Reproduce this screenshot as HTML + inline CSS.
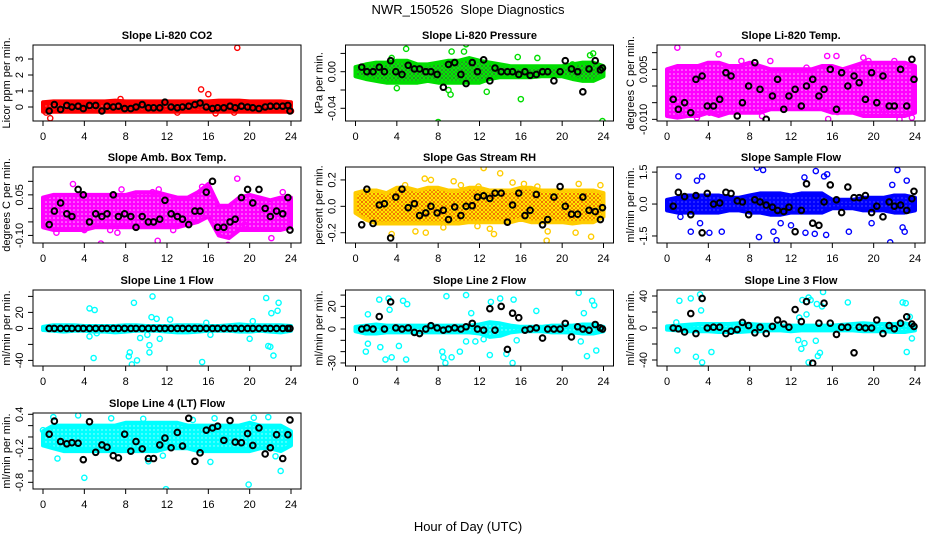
<!DOCTYPE html>
<html><head><meta charset="utf-8"><style>
body{margin:0;background:#fff;}
svg{display:block;font-family:"Liberation Sans",sans-serif;}
</style></head><body>
<svg id="chart" width="936" height="540" viewBox="0 0 936 540">
<defs>
<pattern id="pat-red" width="4" height="4" patternUnits="userSpaceOnUse"><rect width="4" height="4" fill="#ff0000"/><circle cx="2" cy="2" r="0.6" fill="#ff9090"/></pattern>
<pattern id="pat-green" width="4" height="4" patternUnits="userSpaceOnUse"><rect width="4" height="4" fill="#2f7d2f"/><circle cx="2" cy="2" r="1.6" fill="none" stroke="#00ee00" stroke-width="1.1"/></pattern>
<pattern id="pat-magenta" width="4" height="4" patternUnits="userSpaceOnUse"><rect width="4" height="4" fill="#ff00ff"/><circle cx="2" cy="2" r="0.8" fill="#ffb0ff"/></pattern>
<pattern id="pat-orange" width="4" height="4" patternUnits="userSpaceOnUse"><rect width="4" height="4" fill="#ee4400"/><circle cx="2" cy="2" r="1.5" fill="none" stroke="#ffee00" stroke-width="1.1"/></pattern>
<pattern id="pat-blue" width="4" height="4" patternUnits="userSpaceOnUse"><rect width="4" height="4" fill="#0000ff"/><circle cx="2" cy="2" r="0.6" fill="#8080ff"/></pattern>
<pattern id="pat-cyan" width="4" height="4" patternUnits="userSpaceOnUse"><rect width="4" height="4" fill="#00ffff"/><circle cx="2" cy="2" r="0.7" fill="#b0ffff"/></pattern>
</defs>
<text x="468" y="14" text-anchor="middle" font-size="13" xml:space="preserve">NWR_150526&#160; Slope Diagnostics</text>
<text x="468" y="531" text-anchor="middle" font-size="13">Hour of Day (UTC)</text>
<g id="panels"></g>
</svg>
<script>
// shared data
const hourGrid = [0,1,2,3,4,5,6,7,8,9,10,11,12,13,14,15,16,17,18,19,20,21,22,23,24];
const xTicks = [0,4,8,12,16,20,24];
const blackHours = [0.6,1.1,1.7,2.3,2.8,3.4,3.9,4.5,5.1,5.7,6.2,6.8,7.3,7.9,8.5,9.0,9.6,10.2,10.7,11.3,11.8,12.4,13.0,13.5,14.1,14.7,15.2,15.8,16.4,16.9,17.5,18.1,18.6,19.2,19.8,20.3,20.9,21.5,22.0,22.6,23.2,23.7,23.9];

// Panel 1: Li-820 CO2
const co2Lo = [-0.3,-0.3,-0.3,-0.3,-0.3,-0.3,-0.3,-0.3,-0.3,-0.3,-0.3,-0.3,-0.3,-0.3,-0.3,-0.3,-0.3,-0.3,-0.3,-0.3,-0.3,-0.3,-0.3,-0.3,-0.3];
const co2Hi = [0.3,0.35,0.35,0.35,0.35,0.35,0.35,0.4,0.35,0.35,0.35,0.35,0.35,0.35,0.35,0.35,0.35,0.4,0.4,0.4,0.35,0.35,0.35,0.35,0.3];
const co2OutX = [0.7,15.3,16,18.8,16.7,13,18.5,7.5,0.3,24];
const co2OutY = [-0.7,1.1,0.8,3.7,-0.4,-0.35,-0.35,0.5,-0.35,-0.25];
const co2Black = [-0.25,0.15,-0.15,0.1,0,0.05,-0.1,0.1,0.1,-0.25,0.05,0,0.05,-0.1,-0.1,0,0.15,-0.05,-0.05,-0.05,0.3,0,-0.05,0,0.05,0.15,0.25,0,-0.1,-0.05,-0.05,0.05,-0.05,0.05,0,-0.05,-0.1,0,0.05,0.05,0.05,0.1,-0.25];
const co2Ticks = [0,1,2,3];
const co2Labels = ["0","1","2","3"];

// Panel 2: Pressure
const presLo = [-0.005,-0.008,-0.01,-0.012,-0.012,-0.012,-0.012,-0.01,-0.012,-0.012,-0.012,-0.012,-0.012,-0.008,-0.006,-0.006,-0.006,-0.006,-0.005,-0.005,-0.005,-0.008,-0.01,-0.01,-0.005];
const presHi = [0.005,0.008,0.01,0.01,0.012,0.012,0.008,0.008,0.01,0.012,0.012,0.015,0.012,0.01,0.008,0.006,0.006,0.006,0.006,0.006,0.006,0.008,0.01,0.01,0.006];
const presOutX = [4.9,10.7,10.5,9.3,8,16,23.9,9,9.2,4,12.7,3.5,22.7,23,21,17.6,15.7];
const presOutY = [0.025,0.03,0.022,0.022,-0.055,-0.03,-0.054,-0.02,-0.025,-0.018,-0.022,0.015,0.018,0.02,0.008,0.015,0.016];
const presBlack = [0.005,0,0,0.005,0,0.012,0,-0.003,0.007,0.003,0.003,0,0,-0.003,-0.017,0.008,0.010,-0.003,-0.013,0.010,0,0.013,-0.010,0.004,0,0,0,-0.003,0,-0.004,-0.003,0,0,-0.010,0,0.012,0.003,0,-0.022,0.003,0.012,0.002,0.004];
const presTicks = [0.02,0,-0.02,-0.04];
const presLabels = ["","0.00","","-0.04"];

// Panel 3: Li-820 Temp
const tempLo = [-0.009,-0.0095,-0.009,-0.009,-0.008,-0.009,-0.008,-0.008,-0.008,-0.008,-0.007,-0.007,-0.007,-0.007,-0.007,-0.007,-0.008,-0.008,-0.008,-0.009,-0.009,-0.009,-0.009,-0.009,-0.008];
const tempHi = [0.005,0.006,0.006,0.006,0.007,0.007,0.006,0.006,0.007,0.006,0.005,0.005,0.005,0.005,0.005,0.006,0.006,0.005,0.006,0.007,0.007,0.007,0.007,0.007,0.006];
const tempOutX = [1,5,15.5,16.4,19,19.5,7.2,2.9,15.6,22.5,23.7,16.5,21,9.2,0.3,1.2,4.1,13.5,10,22];
const tempOutY = [0.0115,0.0095,0.009,0.009,0.0085,0.0075,0.0075,-0.0095,-0.0099,-0.010,-0.0095,-0.0078,-0.0075,-0.009,-0.006,-0.008,-0.008,0.0055,0.0075,0.0075];
const tempBlack = [-0.004,-0.007,-0.005,-0.008,0.002,0.003,-0.006,-0.006,-0.004,0.004,0.003,-0.009,-0.005,0,0.007,-0.001,-0.010,-0.003,0.002,-0.007,-0.003,-0.001,-0.006,0,0.002,-0.003,-0.001,0.005,-0.007,0.004,0,0.003,0.001,-0.004,0.004,-0.005,0.003,-0.006,-0.006,0.005,-0.006,0.008,0.002];
const tempTicks = [0.01,0.005,0,-0.005,-0.01];
const tempLabels = ["","0.005","","","-0.010"];

// Panel 4: Amb. Box Temp
const ambLo = [-0.07,-0.08,-0.08,-0.08,-0.08,-0.07,-0.07,-0.07,-0.07,-0.07,-0.07,-0.07,-0.07,-0.07,-0.06,-0.05,-0.03,-0.1,-0.11,-0.08,-0.08,-0.08,-0.08,-0.08,-0.07];
const ambHi = [0.04,0.05,0.05,0.05,0.05,0.05,0.05,0.05,0.05,0.06,0.06,0.06,0.05,0.04,0.04,0.06,0.09,0.01,0.01,0.04,0.05,0.04,0.03,0.04,0.04];
const ambOutX = [2.9,18.8,5.6,11.1,17.9,7.2,11.2,10.6,22.1,23.2,15.4,4,12.6,8.8,1.3,6.5,19.5,7.6];
const ambOutY = [0.09,0.11,-0.13,-0.12,-0.135,-0.09,0.07,0.06,-0.11,0.06,0.08,-0.08,-0.08,0.05,-0.09,-0.08,-0.06,0.07];
const ambBlack = [-0.06,-0.01,0.02,-0.02,-0.03,0.07,0.05,-0.05,-0.02,-0.03,-0.02,0.05,-0.03,-0.02,-0.03,-0.07,-0.03,-0.05,-0.05,-0.04,0.03,-0.02,-0.03,-0.04,-0.06,-0.01,-0.01,0.06,0.10,-0.07,-0.07,-0.05,-0.04,0.04,0.07,0.02,0.07,0,-0.03,-0.01,-0.02,0.04,-0.08];
const ambTicks = [0.1,0.05,0,-0.05,-0.1];
const ambLabels = ["","0.05","","","-0.10"];

// Panel 5: Gas Stream RH
const rhLo = [-0.05,-0.1,-0.13,-0.13,-0.13,-0.13,-0.13,-0.13,-0.13,-0.13,-0.13,-0.12,-0.12,-0.12,-0.12,-0.12,-0.1,-0.12,-0.12,-0.12,-0.12,-0.13,-0.12,-0.12,-0.08];
const rhHi = [0.1,0.12,0.12,0.1,0.14,0.14,0.12,0.14,0.14,0.12,0.12,0.14,0.14,0.12,0.12,0.12,0.14,0.14,0.12,0.12,0.12,0.12,0.12,0.12,0.1];
const rhOutX = [12.4,14,7.3,6.7,9.5,3.5,13.4,18.5,18.6,21.3,22.8,5.8,6.8,13,8.5,11.8,4.8,21.6,23.7,16.3,17.6,15.2,10.2,11.9];
const rhOutY = [0.29,0.25,0.2,0.21,0.19,-0.21,-0.21,-0.26,-0.19,-0.2,-0.23,-0.19,-0.2,-0.17,-0.16,-0.15,0.16,0.17,0.16,0.17,0.15,0.18,0.16,0.15];
const rhBlack = [-0.14,0.13,-0.13,0.01,0.02,-0.24,0.07,0.13,-0.01,0.02,-0.07,-0.05,0,-0.05,-0.03,-0.1,-0.005,-0.07,0,0.005,0.07,0.08,0.06,0.10,0.10,-0.12,0.01,0.10,-0.07,-0.03,0.09,-0.14,-0.1,0.07,0.15,0,-0.06,-0.06,0.07,-0.03,-0.04,-0.1,-0.01];
const rhTicks = [0.2,0,-0.2];
const rhLabels = ["0.2","0.0","-0.2"];

// Panel 6: Sample Flow
const sfLo = [-0.3,-0.4,-0.4,-0.4,-0.4,-0.4,-0.3,-0.3,-0.4,-0.4,-0.5,-0.5,-0.4,-0.4,-0.4,-0.4,-0.2,-0.2,-0.2,-0.3,-0.3,-0.3,-0.4,-0.4,-0.3];
const sfHi = [0.2,0.3,0.4,0.4,0.4,0.4,0.3,0.3,0.4,0.5,0.5,0.5,0.4,0.5,0.5,0.5,0.2,0.2,0.2,0.3,0.3,0.3,0.4,0.4,0.3];
const sfOutX = [1.1,2.9,3.4,8.7,9.3,13.3,14.4,15.2,15.5,22.3,21.8,23.2,2.3,3.2,4.1,5.3,8.9,10.3,10.6,12,13.4,14.3,15.4,17.6,19.8,21.6,22.8,23,11,1.3];
const sfOutY = [1.3,1.1,1.3,1.7,1.6,1.25,1.55,1.3,1.4,1.6,0.9,1.1,-1.3,-0.9,-1.35,-1.3,-1.55,-1.3,-1.7,-1.0,-1.35,-1.4,-1.45,-1.3,-0.9,-1.8,-1.1,-1.3,-0.9,-0.6];
const sfBlack = [-0.1,0.55,0.35,-0.5,0.4,-1.35,0.5,0,0.05,0.55,0.5,0.15,0.1,-0.5,0.2,0.1,-0.05,-0.15,-0.3,-0.35,-0.15,-1.3,-0.3,0.95,-0.9,-1.0,0.1,0.9,0.2,-0.4,0.8,0.3,0.3,0.4,-0.4,-0.1,-0.6,0.1,-0.1,-0.05,-0.3,0.25,0.6];
const sfTicks = [1.5,0,-1.5];
const sfLabels = ["1.5","0.0","-1.5"];

// Panel 7: Line 1 Flow
const l1Lo = [-2,-3,-4,-3,-3,-4,-4,-5,-4,-3,-3,-3,-4,-5,-5,-4,-3,-3,-3,-4,-4,-3,-4,-5,-3];
const l1Hi = [2,4,4,4,3,3,3,3,4,4,3,3,3,4,4,4,3,3,4,5,4,4,4,4,3];
const l1OutX = [4.5,5,5.2,4.9,8.8,10.6,10.5,11,11.3,10.1,10.3,9.4,9.1,8.6,8.3,8.4,12.3,15.4,21.6,22.8,22.7,22.1,21.8,22,22.3,20,16.2,4.5,10.3,15.8,20.3];
const l1OutY = [25,23,-6,-37,32,40,14,12,-13,-8,-30,-12,-40,-45,-35,-30,11,-42,38,32,22,19,-22,-23,-34,-13,-8,-10,-21,7,9];
const l1Black = [0,0,0,0,0,0,0,0,0,0,0,0,0,0,0,0,0,0,0,0,0,0,0,0,0,0,0,0,0,0,0,0,0,0,0,0,0,0,0,0,0,0,0];
const l1Ticks = [40,20,0,-20,-40];
const l1Labels = ["","20","0","","-40"];

// Panel 8: Line 2 Flow
const l2Lo = [-2,-4,-4,-3,-3,-3,-3,-3,-3,-3,-3,-3,-4,-7,-6,-3,-2,-2,-2,-3,-3,-3,-4,-4,-2];
const l2Hi = [2,3,4,3,3,3,3,3,3,3,3,3,4,6,5,3,2,2,2,3,3,3,4,4,2];
const l2OutX = [1.2,2.3,3.2,3.3,4.6,5,1,1.2,2.4,2.9,3.5,4.2,4.9,8.8,8.4,8.5,8.7,9.3,10.1,10.7,10.7,11.6,12.4,13,13.1,14,14.6,15.2,15.3,15.6,17.5,21.6,22.4,21.8,22.9,23.1,23.3,22.1,11.2];
const l2OutY = [13,26,27,17,25,22,-20,-13,-16,-27,-25,-15,-27,29,-20,-25,-30,-25,-20,30,-11,-11,-9,-23,24,27,-22,-30,26,-10,16,32,-24,-11,25,21,-19,14,14];
const l2Black = [0,1,0,11,0,24,1,0,1,-3,-4,0,3,1,-1,0,1,0,2,5,0,-1,18,-1,20,-18,14,10,-1,0,1,-8,0,0,0,5,-7,2,0,-1,4,1,0];
const l2Ticks = [30,20,10,0,-10,-20,-30];
const l2Labels = ["","20","","0","","","-30"];

// Panel 9: Line 3 Flow
const l3Lo = [-2,-3,-4,-4,-4,-5,-5,-5,-4,-4,-3,-3,-4,-3,-3,-3,-3,-3,-3,-4,-4,-4,-5,-5,-3];
const l3Hi = [2,3,4,5,5,5,5,6,5,4,4,3,3,3,3,3,3,4,5,6,5,5,5,6,3];
const l3OutX = [1.2,1,2.3,3.2,3.3,2.8,3.4,4.3,0.9,13.1,13.7,13.9,14.5,15.1,15,13.5,12.7,13,13.3,13.7,14.6,14.8,14.4,12.8,17.5,22.8,23.1,23.2,23.7,23.5];
const l3OutY = [34,-28,37,42,22,-36,-43,-30,7,35,38,35,30,45,27,17,-15,-26,-19,-43,-35,-31,-16,13,32,32,31,-30,-13,14];
const l3Black = [0,-1,-5,18,-7,37,0,1,1,-7,-4,-2,7,3,-6,1,-7,2,10,5,1,23,8,33,-44,6,31,6,-8,1,1,-31,1,0,0,10,-7,3,-1,6,14,5,2];
const l3Ticks = [40,20,0,-20,-40];
const l3Labels = ["40","","0","","-40"];

// Panel 10: Line 4 (LT) Flow
const l4Lo = [-0.15,-0.2,-0.25,-0.25,-0.25,-0.25,-0.25,-0.25,-0.25,-0.25,-0.25,-0.25,-0.2,-0.2,-0.2,-0.25,-0.25,-0.25,-0.25,-0.25,-0.25,-0.2,-0.2,-0.25,-0.15];
const l4Hi = [0.1,0.2,0.2,0.2,0.2,0.2,0.2,0.2,0.25,0.25,0.25,0.25,0.25,0.25,0.2,0.2,0.2,0.2,0.2,0.2,0.25,0.2,0.2,0.2,0.1];
const l4OutX = [4,11.9,19.9,1,3.4,21.8,1.4,10.2,16.2,23,22.5,11.6,14.5,16.6,9.7,20.4,6.6,0];
const l4OutY = [-0.72,-0.92,-0.84,0.35,0.38,0.35,-0.38,-0.43,-0.44,-0.6,-0.34,-0.33,0.3,0.33,0.32,0.34,0.33,0.12];
const l4Black = [0.05,0.28,-0.08,-0.12,-0.10,-0.11,-0.40,0.27,-0.27,-0.14,-0.18,-0.33,-0.37,0.05,-0.25,-0.08,-0.21,-0.38,-0.38,-0.14,-0.02,-0.19,0.08,-0.16,0.33,-0.43,-0.28,0.12,0.16,0.19,-0.06,0.29,-0.09,-0.10,0.06,-0.15,0.16,-0.30,-0.19,0.04,-0.38,0.04,0.30];
const l4Ticks = [0.4,0.2,0,-0.2,-0.4,-0.6,-0.8];
const l4Labels = ["0.4","","","-0.2","","","-0.8"];

const panels = [
 {key:"co2",title:"Slope Li-820 CO2",ylab:"Licor ppm per min.",col:0,row:0,ymin:-0.875,ymax:3.875,color:"#ff0000",pat:"pat-red",lo:co2Lo,hi:co2Hi,ox:co2OutX,oy:co2OutY,by:co2Black,ticks:co2Ticks,labels:co2Labels},
 {key:"pressure",title:"Slope Li-820 Pressure",ylab:"kPa per min.",col:1,row:0,ymin:-0.0539,ymax:0.0292,color:"#00dd00",pat:"pat-green",lo:presLo,hi:presHi,ox:presOutX,oy:presOutY,by:presBlack,ticks:presTicks,labels:presLabels},
 {key:"temp",title:"Slope Li-820 Temp.",ylab:"degrees C per min.",col:2,row:0,ymin:-0.0105,ymax:0.0123,color:"#ff00ff",pat:"pat-magenta",lo:tempLo,hi:tempHi,ox:tempOutX,oy:tempOutY,by:tempBlack,ticks:tempTicks,labels:tempLabels},
 {key:"amb",title:"Slope Amb. Box Temp.",ylab:"degrees C per min.",col:0,row:1,ymin:-0.128,ymax:0.153,color:"#ff00ff",pat:"pat-magenta",lo:ambLo,hi:ambHi,ox:ambOutX,oy:ambOutY,by:ambBlack,ticks:ambTicks,labels:ambLabels},
 {key:"rh",title:"Slope Gas Stream RH",ylab:"percent per min.",col:1,row:1,ymin:-0.278,ymax:0.298,color:"#ffcc00",pat:"pat-orange",lo:rhLo,hi:rhHi,ox:rhOutX,oy:rhOutY,by:rhBlack,ticks:rhTicks,labels:rhLabels},
 {key:"sample",title:"Slope Sample Flow",ylab:"ml/min per min.",col:2,row:1,ymin:-1.83,ymax:1.74,color:"#0000ff",pat:"pat-blue",lo:sfLo,hi:sfHi,ox:sfOutX,oy:sfOutY,by:sfBlack,ticks:sfTicks,labels:sfLabels},
 {key:"line1",title:"Slope Line 1 Flow",ylab:"ml/min per min.",col:0,row:2,ymin:-47,ymax:48,color:"#00ffff",pat:"pat-cyan",lo:l1Lo,hi:l1Hi,ox:l1OutX,oy:l1OutY,by:l1Black,ticks:l1Ticks,labels:l1Labels},
 {key:"line2",title:"Slope Line 2 Flow",ylab:"ml/min per min.",col:1,row:2,ymin:-32.7,ymax:34.5,color:"#00ffff",pat:"pat-cyan",lo:l2Lo,hi:l2Hi,ox:l2OutX,oy:l2OutY,by:l2Black,ticks:l2Ticks,labels:l2Labels},
 {key:"line3",title:"Slope Line 3 Flow",ylab:"ml/min per min.",col:2,row:2,ymin:-47.5,ymax:47.5,color:"#00ffff",pat:"pat-cyan",lo:l3Lo,hi:l3Hi,ox:l3OutX,oy:l3OutY,by:l3Black,ticks:l3Ticks,labels:l3Labels},
 {key:"line4",title:"Slope Line 4 (LT) Flow",ylab:"ml/min per min.",col:0,row:3,ymin:-0.918,ymax:0.423,color:"#00ffff",pat:"pat-cyan",lo:l4Lo,hi:l4Hi,ox:l4OutX,oy:l4OutY,by:l4Black,ticks:l4Ticks,labels:l4Labels}
];

const NS = "http://www.w3.org/2000/svg";
const root = document.getElementById("panels");
const colLeft = [33,345.5,657];
const rowTop = [45,167,290,413];
const boxW = 268, boxH = 76;

function mk(tag, attrs, parent){
  const e = document.createElementNS(NS, tag);
  for (const k in attrs) e.setAttribute(k, attrs[k]);
  parent.appendChild(e);
  return e;
}

panels.forEach(p => {
  const L = colLeft[p.col], T = rowTop[p.row], R = L + boxW, B = T + boxH;
  const xScale = h => L + 10 + h * (boxW - 20) / 24;
  const yScale = v => B - (v - p.ymin) / (p.ymax - p.ymin) * boxH;
  const g = mk("g", {}, root);
  
  

  const clip = mk("clipPath", {id: "clip-" + p.key}, g);
  mk("rect", {x: L, y: T, width: boxW, height: boxH}, clip);
  const plot = mk("g", {"clip-path": "url(#clip-" + p.key + ")"}, g);

  let d = "";
  hourGrid.forEach((h, i) => { d += (i ? "L" : "M") + xScale(h).toFixed(1) + "," + yScale(p.hi[i]).toFixed(1); });
  for (let i = hourGrid.length - 1; i >= 0; i--) d += "L" + xScale(hourGrid[i]).toFixed(1) + "," + yScale(p.lo[i]).toFixed(1);
  d += "Z";
  const band = mk("path", {d: d, fill: "url(#" + p.pat + ")", stroke: p.color, "stroke-width": 4, "stroke-linejoin": "round"}, plot);
  
  

  p.ox.forEach((x, i) => {
    const c = mk("circle", {cx: xScale(x), cy: yScale(p.oy[i]), r: 2.6, fill: "none", stroke: p.color, "stroke-width": 1.4}, plot);
    
    
  });
  const n = Math.min(blackHours.length, p.by.length);
  for (let i = 0; i < n; i++) {
    const c = mk("circle", {cx: xScale(blackHours[i]), cy: yScale(p.by[i]), r: 2.8, fill: "none", stroke: "#000", "stroke-width": 2}, plot);
    
    
  }

  const box = mk("rect", {x: L, y: T, width: boxW, height: boxH, fill: "none", stroke: "#000", "stroke-width": 1}, g);
  
  

  const title = mk("text", {x: (L + R) / 2, y: T - 6, "text-anchor": "middle", "font-size": 11, "font-weight": "bold"}, g);
  title.textContent = p.title;
  
  

  const xa = mk("g", {}, g);
  
  
  mk("line", {x1: xScale(0), x2: xScale(24), y1: B, y2: B, stroke: "#000"}, xa);
  xTicks.forEach(t => {
    mk("line", {x1: xScale(t), x2: xScale(t), y1: B, y2: B + 5, stroke: "#000"}, xa);
    const tx = mk("text", {x: xScale(t), y: B + 19, "text-anchor": "middle", "font-size": 11}, xa);
    tx.textContent = String(t);
  });

  const ya = mk("g", {}, g);
  
  
  const ys = p.ticks.map(yScale);
  mk("line", {x1: L, x2: L, y1: Math.min(...ys), y2: Math.max(...ys), stroke: "#000"}, ya);
  p.ticks.forEach((t, i) => {
    const y = yScale(t);
    mk("line", {x1: L - 5, x2: L, y1: y, y2: y, stroke: "#000"}, ya);
    if (p.labels[i]) {
      const tx = mk("text", {x: L - 10, y: y, "text-anchor": "middle", "font-size": 11, transform: "rotate(-90 " + (L - 10) + " " + y + ")"}, ya);
      tx.textContent = p.labels[i];
    }
  });
  const yl = mk("text", {x: L - 23, y: (T + B) / 2, "text-anchor": "middle", "font-size": 11, transform: "rotate(-90 " + (L - 23) + " " + ((T + B) / 2) + ")"}, g);
  yl.textContent = p.ylab;
  
  
});
</script>
</body></html>
